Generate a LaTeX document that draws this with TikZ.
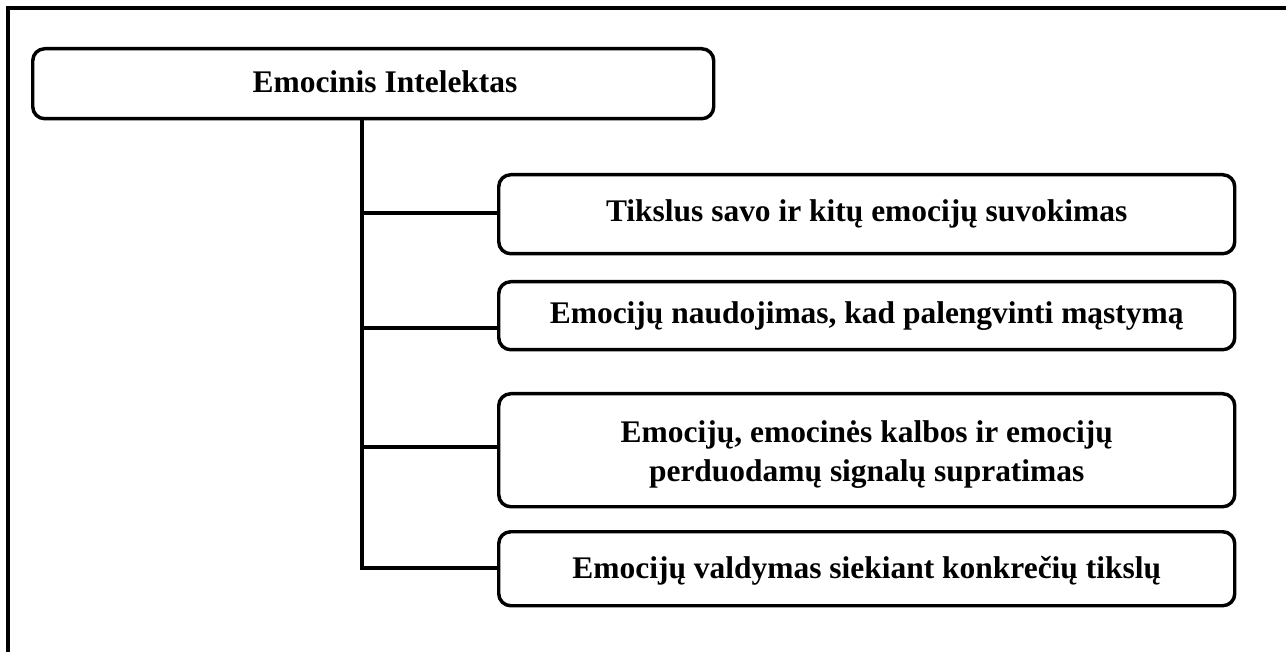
\documentclass[tikz,border=0pt]{standalone}
\usepackage{fontspec}
\setmainfont{Liberation Serif}
\begin{document}
\begin{tikzpicture}[x=0.75pt,y=-0.75pt,
  txt/.style={font=\fontsize{23.6}{29.5}\selectfont\bfseries},
  box/.style={draw,line width=2.6pt,rounded corners=9pt,inner sep=0pt,align=center,txt},
  conn/.style={line width=2.6pt}]
\useasboundingbox (0,0) rectangle (1286,652);
\draw[line width=2.6pt] (8,652) |- (1286,8);
\node[box,minimum width=510.75pt,minimum height=52.5pt,anchor=north west] (root) at (31,47) {};
\node[txt] (roott) at (385,82) {Emocinis Intelektas};
\node[box,minimum width=552pt,minimum height=59.25pt,anchor=north west] (b1) at (497,173) {Tikslus savo ir kitų emocijų suvokimas};
\node[box,minimum width=552pt,minimum height=51pt,anchor=north west] (b2) at (497,280) {Emocijų naudojimas, kad palengvinti mąstymą};
\node[box,minimum width=552pt,minimum height=84.75pt,anchor=north west] (b3) at (497,392) {\rule{0pt}{23pt}Emocijų, emocinės kalbos ir emocijų\\perduodamų signalų supratimas};
\node[box,minimum width=552pt,minimum height=55.5pt,anchor=north west] (b4) at (497,530) {\rule{0pt}{20pt}Emocijų valdymas siekiant konkrečių tikslų};
\coordinate (top) at (362,117);
\coordinate (j1) at (362,213);
\coordinate (j2) at (362,328);
\coordinate (j3) at (362,447);
\coordinate (j4) at (362,568);
\draw[conn] (j1) -- (j1 -| b1.west);
\draw[conn] (j2) -- (j2 -| b2.west);
\draw[conn] (j3) -- (j3 -| b3.west);
\draw[conn,line join=miter] (top) -- (j4) -- (j4 -| b4.west);
\end{tikzpicture}
\end{document}
